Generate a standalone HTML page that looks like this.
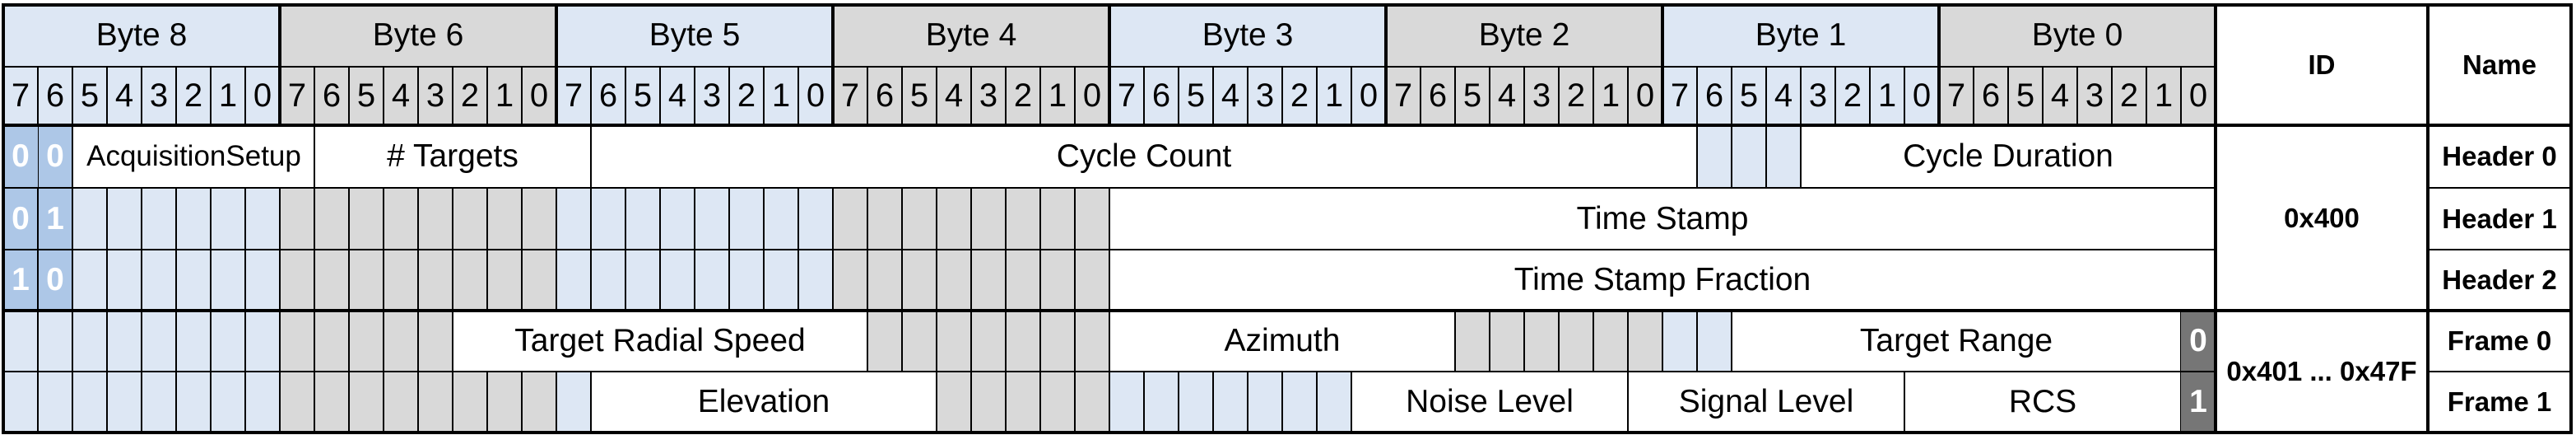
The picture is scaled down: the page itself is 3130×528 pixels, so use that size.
<!DOCTYPE html>
<html><head><meta charset="utf-8"><style>
html,body{margin:0;padding:0;background:#fff}
#c{position:relative;width:3130px;height:528px;overflow:hidden;background:#fff;font-family:"Liberation Sans Narrow","Liberation Sans",sans-serif;color:#000}
#c div{position:absolute;box-sizing:border-box}
.t{display:flex;align-items:center;justify-content:center;font-size:39px;white-space:nowrap}
.f{background:#fff;border-left:2px solid #000;border-right:2px solid #000}
.g{background-image:repeating-linear-gradient(90deg,#000 0 2px,transparent 2px 42px)}
.b{background-color:#dde7f4}
.y{background-color:#d9d9d9}
.db{background-color:#adc7e7;color:#fff;font-weight:bold}
.dg{background:#767676;color:#fff;font-weight:bold}
.h{background:#000;height:2px;left:4px;width:3120px}
.H{background:#000}
.bd{font-weight:bold;font-size:33px}
</style></head><body><div id="c">
<!-- byte labels -->
<div class="t b" style="left:4px;top:5px;width:336px;height:76px">Byte 8</div>
<div class="t y" style="left:340px;top:5px;width:336px;height:76px">Byte 6</div>
<div class="t b" style="left:676px;top:5px;width:336px;height:76px">Byte 5</div>
<div class="t y" style="left:1012px;top:5px;width:336px;height:76px">Byte 4</div>
<div class="t b" style="left:1348px;top:5px;width:336px;height:76px">Byte 3</div>
<div class="t y" style="left:1684px;top:5px;width:336px;height:76px">Byte 2</div>
<div class="t b" style="left:2020px;top:5px;width:336px;height:76px">Byte 1</div>
<div class="t y" style="left:2356px;top:5px;width:336px;height:76px">Byte 0</div>
<!-- bit row -->
<div class="g b" style="left:3px;top:81px;width:338px;height:71px"></div>
<div class="g y" style="left:339px;top:81px;width:338px;height:71px"></div>
<div class="g b" style="left:675px;top:81px;width:338px;height:71px"></div>
<div class="g y" style="left:1011px;top:81px;width:338px;height:71px"></div>
<div class="g b" style="left:1347px;top:81px;width:338px;height:71px"></div>
<div class="g y" style="left:1683px;top:81px;width:338px;height:71px"></div>
<div class="g b" style="left:2019px;top:81px;width:338px;height:71px"></div>
<div class="g y" style="left:2355px;top:81px;width:338px;height:71px"></div>
<div style="left:4px;top:81px;width:2688px;height:71px;display:flex;font-size:40px">
<span style="width:42px;text-align:center;line-height:71px">7</span><span style="width:42px;text-align:center;line-height:71px">6</span><span style="width:42px;text-align:center;line-height:71px">5</span><span style="width:42px;text-align:center;line-height:71px">4</span><span style="width:42px;text-align:center;line-height:71px">3</span><span style="width:42px;text-align:center;line-height:71px">2</span><span style="width:42px;text-align:center;line-height:71px">1</span><span style="width:42px;text-align:center;line-height:71px">0</span>
<span style="width:42px;text-align:center;line-height:71px">7</span><span style="width:42px;text-align:center;line-height:71px">6</span><span style="width:42px;text-align:center;line-height:71px">5</span><span style="width:42px;text-align:center;line-height:71px">4</span><span style="width:42px;text-align:center;line-height:71px">3</span><span style="width:42px;text-align:center;line-height:71px">2</span><span style="width:42px;text-align:center;line-height:71px">1</span><span style="width:42px;text-align:center;line-height:71px">0</span>
<span style="width:42px;text-align:center;line-height:71px">7</span><span style="width:42px;text-align:center;line-height:71px">6</span><span style="width:42px;text-align:center;line-height:71px">5</span><span style="width:42px;text-align:center;line-height:71px">4</span><span style="width:42px;text-align:center;line-height:71px">3</span><span style="width:42px;text-align:center;line-height:71px">2</span><span style="width:42px;text-align:center;line-height:71px">1</span><span style="width:42px;text-align:center;line-height:71px">0</span>
<span style="width:42px;text-align:center;line-height:71px">7</span><span style="width:42px;text-align:center;line-height:71px">6</span><span style="width:42px;text-align:center;line-height:71px">5</span><span style="width:42px;text-align:center;line-height:71px">4</span><span style="width:42px;text-align:center;line-height:71px">3</span><span style="width:42px;text-align:center;line-height:71px">2</span><span style="width:42px;text-align:center;line-height:71px">1</span><span style="width:42px;text-align:center;line-height:71px">0</span>
<span style="width:42px;text-align:center;line-height:71px">7</span><span style="width:42px;text-align:center;line-height:71px">6</span><span style="width:42px;text-align:center;line-height:71px">5</span><span style="width:42px;text-align:center;line-height:71px">4</span><span style="width:42px;text-align:center;line-height:71px">3</span><span style="width:42px;text-align:center;line-height:71px">2</span><span style="width:42px;text-align:center;line-height:71px">1</span><span style="width:42px;text-align:center;line-height:71px">0</span>
<span style="width:42px;text-align:center;line-height:71px">7</span><span style="width:42px;text-align:center;line-height:71px">6</span><span style="width:42px;text-align:center;line-height:71px">5</span><span style="width:42px;text-align:center;line-height:71px">4</span><span style="width:42px;text-align:center;line-height:71px">3</span><span style="width:42px;text-align:center;line-height:71px">2</span><span style="width:42px;text-align:center;line-height:71px">1</span><span style="width:42px;text-align:center;line-height:71px">0</span>
<span style="width:42px;text-align:center;line-height:71px">7</span><span style="width:42px;text-align:center;line-height:71px">6</span><span style="width:42px;text-align:center;line-height:71px">5</span><span style="width:42px;text-align:center;line-height:71px">4</span><span style="width:42px;text-align:center;line-height:71px">3</span><span style="width:42px;text-align:center;line-height:71px">2</span><span style="width:42px;text-align:center;line-height:71px">1</span><span style="width:42px;text-align:center;line-height:71px">0</span>
<span style="width:42px;text-align:center;line-height:71px">7</span><span style="width:42px;text-align:center;line-height:71px">6</span><span style="width:42px;text-align:center;line-height:71px">5</span><span style="width:42px;text-align:center;line-height:71px">4</span><span style="width:42px;text-align:center;line-height:71px">3</span><span style="width:42px;text-align:center;line-height:71px">2</span><span style="width:42px;text-align:center;line-height:71px">1</span><span style="width:42px;text-align:center;line-height:71px">0</span>
</div>

<!-- dark blue row indicator bits -->
<div class="g db" style="left:3px;top:152px;width:86px;height:225px"></div>
<div class="t db" style="left:4px;top:152px;width:42px;height:76px">0</div><div class="t db" style="left:46px;top:152px;width:42px;height:76px;background:none">0</div>
<div class="t db" style="left:4px;top:228px;width:42px;height:75px;background:none">0</div><div class="t db" style="left:46px;top:228px;width:42px;height:75px;background:none">1</div>
<div class="t db" style="left:4px;top:303px;width:42px;height:74px;background:none">1</div><div class="t db" style="left:46px;top:303px;width:42px;height:74px;background:none">0</div>

<!-- Header 0 -->
<div class="t f" style="left:87px;top:152px;width:297px;height:76px;font-size:35px">AcquisitionSetup</div>
<div class="t f" style="left:381px;top:152px;width:338px;height:76px"># Targets</div>
<div class="t f" style="left:717px;top:152px;width:1346px;height:76px">Cycle Count</div>
<div class="g b" style="left:2061px;top:152px;width:128px;height:76px"></div>
<div class="t f" style="left:2187px;top:152px;width:506px;height:76px">Cycle Duration</div>

<!-- Header 1 & 2 -->
<div class="g b" style="left:87px;top:228px;width:254px;height:149px"></div>
<div class="g y" style="left:339px;top:228px;width:338px;height:149px"></div>
<div class="g b" style="left:675px;top:228px;width:338px;height:149px"></div>
<div class="g y" style="left:1011px;top:228px;width:338px;height:149px"></div>
<div class="t f" style="left:1347px;top:228px;width:1346px;height:75px">Time Stamp</div>
<div class="t f" style="left:1347px;top:303px;width:1346px;height:74px">Time Stamp Fraction</div>

<!-- Frame 0 -->
<div class="g b" style="left:3px;top:377px;width:338px;height:74px"></div>
<div class="g y" style="left:339px;top:377px;width:212px;height:74px"></div>
<div class="t f" style="left:549px;top:377px;width:506px;height:74px">Target Radial Speed</div>
<div class="g y" style="left:1053px;top:377px;width:296px;height:74px"></div>
<div class="t f" style="left:1347px;top:377px;width:422px;height:74px">Azimuth</div>
<div class="g y" style="left:1767px;top:377px;width:254px;height:74px"></div>
<div class="g b" style="left:2019px;top:377px;width:86px;height:74px"></div>
<div class="t f" style="left:2103px;top:377px;width:548px;height:74px">Target Range</div>
<div class="t dg" style="left:2650px;top:377px;width:42px;height:74px">0</div>

<!-- Frame 1 -->
<div class="g b" style="left:3px;top:451px;width:338px;height:73px"></div>
<div class="g y" style="left:339px;top:451px;width:338px;height:73px"></div>
<div class="g b" style="left:675px;top:451px;width:44px;height:73px"></div>
<div class="t f" style="left:717px;top:451px;width:422px;height:73px">Elevation</div>
<div class="g y" style="left:1137px;top:451px;width:212px;height:73px"></div>
<div class="g b" style="left:1347px;top:451px;width:296px;height:73px"></div>
<div class="t f" style="left:1641px;top:451px;width:338px;height:73px">Noise Level</div>
<div class="t f" style="left:1977px;top:451px;width:338px;height:73px">Signal Level</div>
<div class="t f" style="left:2313px;top:451px;width:338px;height:73px">RCS</div>
<div class="t dg" style="left:2650px;top:451px;width:42px;height:73px">1</div>

<!-- ID / Name -->
<div class="t bd" style="left:2692px;top:5px;width:258px;height:147px">ID</div>
<div class="t bd" style="left:2950px;top:5px;width:174px;height:147px">Name</div>
<div class="t bd" style="left:2692px;top:152px;width:258px;height:225px">0x400</div>
<div class="t bd" style="left:2692px;top:377px;width:258px;height:147px">0x401 ... 0x47F</div>
<div class="t bd" style="left:2950px;top:152px;width:174px;height:76px">Header 0</div>
<div class="t bd" style="left:2950px;top:228px;width:174px;height:75px">Header 1</div>
<div class="t bd" style="left:2950px;top:303px;width:174px;height:74px">Header 2</div>
<div class="t bd" style="left:2950px;top:377px;width:174px;height:74px">Frame 0</div>
<div class="t bd" style="left:2950px;top:451px;width:174px;height:73px">Frame 1</div>

<!-- horizontal lines -->
<div class="H" style="left:4px;top:80px;width:2688px;height:2px"></div>
<div class="H" style="left:4px;top:227px;width:2688px;height:2px"></div>
<div class="H" style="left:2950px;top:227px;width:174px;height:2px"></div>
<div class="H" style="left:4px;top:302px;width:2688px;height:2px"></div>
<div class="H" style="left:2950px;top:302px;width:174px;height:2px"></div>
<div class="H" style="left:4px;top:450px;width:2688px;height:2px"></div>
<div class="H" style="left:2950px;top:450px;width:174px;height:2px"></div>
<div class="H" style="left:4px;top:150px;width:3120px;height:4px"></div>
<div class="H" style="left:4px;top:375px;width:3120px;height:4px"></div>
<!-- thick verticals in header -->
<div class="H" style="left:338px;top:5px;width:4px;height:147px"></div>
<div class="H" style="left:674px;top:5px;width:4px;height:147px"></div>
<div class="H" style="left:1010px;top:5px;width:4px;height:147px"></div>
<div class="H" style="left:1346px;top:5px;width:4px;height:147px"></div>
<div class="H" style="left:1682px;top:5px;width:4px;height:147px"></div>
<div class="H" style="left:2018px;top:5px;width:4px;height:147px"></div>
<div class="H" style="left:2354px;top:5px;width:4px;height:147px"></div>
<div class="H" style="left:2690px;top:5px;width:4px;height:519px"></div>
<div class="H" style="left:2948px;top:5px;width:4px;height:519px"></div>
<!-- outer border -->
<div style="left:2px;top:4px;width:3124px;height:523px;border:4px solid #000"></div>
</div></body></html>
